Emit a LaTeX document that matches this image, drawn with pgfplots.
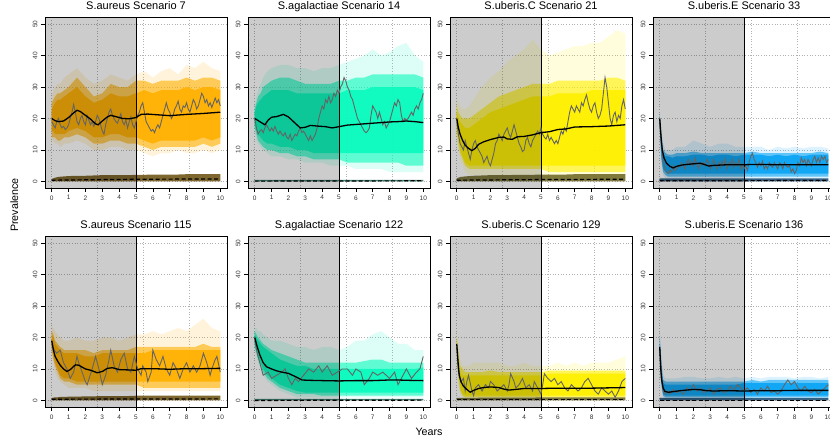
\documentclass[border=0pt]{standalone}
\usepackage{fontspec}
\setmainfont{Liberation Sans}
\usepackage{pgfplots}
\usepackage{pgfplotstable}
\pgfplotsset{compat=1.18}
\usepgfplotslibrary{fillbetween}

\definecolor{cA}{RGB}{255,176,0}
\definecolor{cB}{RGB}{10,250,190}
\definecolor{cC}{RGB}{255,240,0}
\definecolor{cD}{RGB}{10,165,245}
\definecolor{lA}{RGB}{105,78,12}
\definecolor{lB}{RGB}{30,110,90}
\definecolor{lC}{RGB}{105,98,30}
\definecolor{lD}{RGB}{20,70,110}
\definecolor{obs}{RGB}{100,100,100}

\pgfplotsset{
  panel/.style={
    set layers,
    scale only axis, width=182pt, height=170.5pt, anchor=south west,
    xmin=-0.4, xmax=10.4, ymin=-2.08, ymax=52.08,
    xtick={0,1,...,10}, ytick={0,10,20,30,40,50},
    tick align=outside, major tick length=4pt,
    xtick pos=left, ytick pos=left,
    tick style={black, line width=0.5pt},
    axis line style={line width=0.7pt},
    /pgf/number format/assume math mode=true,
    ticklabel style={font=\fontsize{6.5}{7}\selectfont, text=black!80},
    yticklabel style={rotate=90, anchor=south},
    title style={font=\fontsize{11}{13}\selectfont, at={(0.5,1)}, anchor=base, yshift=2pt, inner sep=0pt},
    ymajorgrids,
    extra x ticks={0,2.727,5.455,8.182}, extra x tick labels={},
    extra x tick style={grid=major, major tick length=0pt},
    grid style={line width=0.6pt, dash pattern=on 0.7pt off 2pt, color=black!30},
    no markers,
  }
}

\newcommand{\bands}[3]{%
  \addplot[draw=none, name path=ou] table[x=x,y=ou]{#1};
  \addplot[draw=none, name path=ol] table[x=x,y=ol]{#1};
  \addplot[draw=none, name path=mu] table[x=x,y=mu]{#1};
  \addplot[draw=none, name path=ml] table[x=x,y=ml]{#1};
  \addplot[draw=none, name path=cu] table[x=x,y=cu]{#1};
  \addplot[draw=none, name path=cl] table[x=x,y=cl]{#1};
  \addplot[fill=#2, fill opacity=0.14] fill between[of=ou and ol];
  \addplot[fill=#2, fill opacity=0.6] fill between[of=mu and ml];
  \addplot[fill=#2, fill opacity=0.92] fill between[of=cu and cl];
  \addplot[fill=#3, draw=none, fill opacity=0.85] table[x=x,y=lu]{#1} \closedcycle;
  \addplot[fill=black, fill opacity=0.2, draw=none] coordinates {(-1,-5) (5,-5) (5,60) (-1,60)} -- cycle;
  \addplot[black, line width=0.6pt] coordinates {(5,-5) (5,60)};
}

\pgfplotstableread{
x ou ol mu ml cu cl lu
0 27 13 25 14 23 16 0.8
0.1 29 13 26 14 24 16 1.0
0.2 30 12 27 14 25 15 1.2
0.35 31 12 28 13 26 15 1.4
0.5 31 11 28 13 26 15 1.5
0.75 33 12 29 14 27 15 1.6
1 34 12 30 14 28 16 1.7
1.5 36 13 33 15 30 17 1.8
2 33 12 30 14 27 16 1.8
2.5 31 10 27 12 25 14 1.9
3 32 10 28 12 26 14 2.0
3.5 34 11 31 13 28 15 2.0
4 33 11 30 13 27 15 2.0
4.5 32 10 30 12 27 14 2.0
5 34 10 32 12 28 14 2.1
5.5 35 9 32 11 29 13 2.1
6 33 8 31 10 28 12 2.2
6.5 35 9 32 11 29 13 2.2
7 36 9 32 11 29 13 2.2
7.5 34 10 32 11 29 13 2.2
8 37 9 33 11 30 13 2.3
8.5 36 9 32 11 29 13 2.3
9 38 10 33 12 30 14 2.3
9.5 36 9 33 11 30 13 2.3
10 35 10 32 12 29 14 2.3
}\tA

\pgfplotstableread{
x ou ol mu ml cu cl lu
0 24 16 23 17 22 18 0.5
0.1 27 13 25 15 24 16 0.5
0.2 29 12 27 13 25 15 0.5
0.35 31 11 28 12 26 14 0.5
0.5 33 10 30 11 27 13 0.5
0.75 35 9 31 10 28 12 0.5
1 36 8 32 10 29 12 0.5
1.5 37 8 33 9 29 11 0.5
2 37 7 33 9 29 11 0.5
2.5 36 7 32 8 28 10 0.5
3 36 6 31 8 28 10 0.5
3.5 35 6 31 7 28 9 0.5
4 36 6 31 7 28 9 0.5
4.5 36 5 31 7 28 9 0.5
5 37 5 32 7 28 9 0.5
5.5 38 5 32 6 29 9 0.5
6 39 4 33 6 29 9 0.5
6.5 40 4 33 6 29 9 0.5
7 42 4 34 6 30 9 0.5
7.5 40 4 34 6 30 9 0.5
8 41 3 34 6 30 9 0.5
8.5 43 3 34 6 30 9 0.5
9 44 3 34 5 30 9 0.5
9.5 40 3 34 5 30 9 0.5
10 38 3 33 5 29 9 0.5
}\tB

\pgfplotstableread{
x ou ol mu ml cu cl lu
0 26 14 24 16 22 17 1.0
0.1 25 10 22 12 20 13 1.2
0.2 24 7 21 9 19 10 1.4
0.35 23 5 20 7 18 8 1.5
0.5 23 3 20 5 17 6 1.6
0.75 24 2 20 4 17 5 1.7
1 26 2 21 4 18 5 1.8
1.5 30 2 23 4 20 5 1.9
2 33 2 25 4 22 5 2.0
2.5 35 2 27 4 23 5 2.0
3 38 2 28 4 24 5 2.0
3.5 40 2 29 4 25 5 2.1
4 42 2 30 4 26 5 2.1
4.5 45 2 31 4 27 5 2.1
5 42 2 31 4 27 5 2.2
5.5 40 1 31 3 27 5 2.2
6 41 1 32 3 28 5 2.2
6.5 42 1 32 3 28 5 2.2
7 43 1 32 3 28 5 2.3
7.5 43 1 32 3 28 5 2.3
8 44 1 32 3 29 5 2.3
8.5 44 1 32 3 29 5 2.3
9 46 1 33 3 29 5 2.3
9.5 48 1 33 3 29 5 2.3
10 47 1 32 3 29 5 2.3
}\tC

\pgfplotstableread{
x ou ol mu ml cu cl lu
0 22 16 21 17 20 18 1.0
0.1 16 6 14 7 12 8 1.0
0.2 12 2 10 3 9 4 1.0
0.35 10 1 9 2 8 3 1.0
0.5 10 1 8.5 1.5 8 2.5 1.0
0.75 10 1 8.5 1.5 7.5 2.5 1.0
1 11 1 9 1.5 8 2.5 1.0
1.5 11 1 9 1.5 8 2.5 1.0
2 13 1 9.5 1.5 8.5 2.5 1.0
2.5 12 1 9 1.5 8.5 2.5 1.0
3 11 1 9 1.5 8 2.5 1.0
3.5 12 1 9 1.5 8.5 2.5 1.0
4 12 1 9 1.5 8.5 2.5 1.0
4.5 11 1 9 1.5 8 2.5 1.0
5 11 1 9 1.5 8.5 2.5 1.0
5.5 11 1 9.5 1.5 8.5 2.5 1.0
6 11 1 9 1.5 8.5 2.5 1.0
6.5 10 1 9 1.5 8 2.5 1.0
7 11 1 9 1.5 8.5 2.5 1.0
7.5 10.5 1 9 1.5 8 2.5 1.0
8 11 1 9 1.5 8.5 2.5 1.0
8.5 10.5 1 9 1.5 8 2.5 1.0
9 11 1 9 1.5 8.5 2.5 1.0
9.5 11 1 9.5 1.5 8.5 2.5 1.0
10 10.5 1 9 1.5 8.5 2.5 1.0
}\tD

\pgfplotstableread{
x ou ol mu ml cu cl lu
0 24 15 22 16 21 17 0.8
0.1 23 12 21 13 20 14 0.9
0.2 22 9 19 11 18 12 1.0
0.35 21 7 18 9 17 10 1.0
0.5 20 6 17 7 16 8 1.1
0.75 19 5 16 6 15 7 1.1
1 19 4 16 6 15 7 1.2
1.5 20 4 16 5 15 6 1.2
2 19 4 16 5 14 6 1.3
2.5 19 3 15 5 14 6 1.3
3 20 3 16 5 15 6 1.4
3.5 20 3 16 5 15 6 1.4
4 19 3 16 5 15 6 1.4
4.5 20 3 16 5 15 6 1.4
5 21 3 17 5 15 6 1.5
5.5 21 3 17 4 15 6 1.5
6 22 3 17 4 16 6 1.5
6.5 21 3 17 4 16 6 1.5
7 22 3 17 4 16 6 1.5
7.5 23 3 17 4 16 6 1.5
8 22 3 17 4 16 6 1.5
8.5 24 3 17 4 16 6 1.5
9 26 3 18 4 16 6 1.5
9.5 23 3 17 4 16 6 1.5
10 22 3 17 4 16 6 1.5
}\tE

\pgfplotstableread{
x ou ol mu ml cu cl lu
0 23 16 22 17 21 18 0.5
0.1 23 14 21 15 20 16 0.5
0.2 22 12 20 13 19 14 0.5
0.35 22 10 19 11 18 12 0.5
0.5 21 8 18 9 17 10 0.5
0.75 20 6 17 7 16 8 0.5
1 19 5 16 6 15 7 0.5
1.5 19 3 15 4 13 5 0.5
2 18 2 14 3 12 4 0.5
2.5 17 1 13 2 11 3 0.5
3 17 1 12 2 11 2.5 0.5
3.5 16 1 12 2 10 2.5 0.5
4 17 1 12 1.5 10 2.5 0.5
4.5 17 1 12 1.5 10 2.5 0.5
5 16 1 12 1.5 10 2.5 0.5
5.5 17 1 12 1.5 10 2.5 0.5
6 19 1 12 1.5 10 2.5 0.5
6.5 19 1 12.5 1.5 10 2.5 0.5
7 21 1 13 1.5 10 2.5 0.5
7.5 22 1 13 1.5 10 2.5 0.5
8 20 1 12 1.5 10 2.5 0.5
8.5 18 1 12 1.5 10 2.5 0.5
9 18 1 12 1.5 10 2.5 0.5
9.5 16 1 12 1.5 10 2.5 0.5
10 16 1 12 1.5 10.5 2.5 0.5
}\tF

\pgfplotstableread{
x ou ol mu ml cu cl lu
0 22 14 20 15 19 16 0.8
0.1 17 6 15 7 13 8 0.8
0.2 13 2 11 3 9 4 0.8
0.35 11 1 10 1.5 8 2 0.8
0.5 11 0.5 9 1 8 1.5 0.8
0.75 11 0.5 9 1 8 1.5 0.8
1 12 0.5 9 1 8 1.5 0.8
1.5 12 0.5 9 1 8 1.5 0.9
2 12 0.5 9.5 1 8 1.5 0.9
2.5 12 0.5 9 1 8 1.5 0.9
3 11 0.5 9 1 8 1.5 0.9
3.5 11 0.5 9 1 8 1.5 0.9
4 12 0.5 9 1 8 1.5 0.9
4.5 11 0.5 9 1 8 1.5 0.9
5 11 0.5 9 1 8 1.5 1.0
5.5 11 0.5 9.5 1 8.5 1.5 1.0
6 12 0.5 9.5 1 8.5 1.5 1.0
6.5 11 0.5 9.5 1 8.5 1.5 1.0
7 12 0.5 9.5 1 8.5 1.5 1.0
7.5 11 0.5 9.5 1 8.5 1.5 1.0
8 12 0.5 9.5 1 8.5 1.5 1.0
8.5 12 0.5 9.5 1 8.5 1.5 1.0
9 12 0.5 9.5 1 8.5 1.5 1.0
9.5 13 0.5 9.5 1 8.5 1.5 1.0
10 14 0.5 9.5 1 8.5 1.5 1.0
}\tG

\pgfplotstableread{
x ou ol mu ml cu cl lu
0 22 14 20 15 18 16 0.8
0.1 14 4 12 5 10 6 0.8
0.2 8 1 6.5 1.5 5.5 2 0.8
0.35 7 0.5 6 1 5 1.5 0.8
0.5 7 0.5 6 1 5 1.5 0.8
0.75 7 0.5 6 1 5 1.5 0.8
1 7 0.5 6 1 5 1.5 0.8
1.5 7.5 0.5 6 1 5 1.5 0.8
2 7.5 0.5 6 1 5 1.5 0.8
2.5 7 0.5 6 1 5 1.5 0.8
3 7 0.5 6 1 5 1.5 0.8
3.5 7.5 0.5 6 1 5 1.5 0.8
4 7 0.5 6 1 5 1.5 0.8
4.5 7.5 0.5 6 1 5 1.5 0.8
5 7 0.5 6 1 5.5 1.5 0.8
5.5 7.5 0.5 6.5 1 5.5 1.5 0.8
6 7 0.5 6 1 5.5 1.5 0.8
6.5 7.5 0.5 6.5 1 5.5 1.5 0.8
7 7.5 0.5 6.5 1 5.5 1.5 0.8
7.5 7.5 0.5 6.5 1 5.5 1.5 0.8
8 7 0.5 6.5 1 5.5 1.5 0.8
8.5 7.5 0.5 6.5 1 5.5 1.5 0.8
9 7.5 0.5 6.5 1 5.5 1.5 0.8
9.5 7 0.5 6.5 1 5.5 1.5 0.8
10 7.5 0.5 6.5 1 5.5 1.5 0.8
}\tH

\begin{document}
\begin{tikzpicture}

% ---------- Row 1 ----------
\begin{axis}[panel, at={(45pt,250pt)}, title={S.aureus Scenario 7}]
\bands{\tA}{cA}{lA}
\addplot[black, line width=1.2pt, dash pattern=on 4pt off 2.5pt] coordinates {(0,0.4) (5,0.7) (10,0.8)};
\addplot[obs, line width=0.9pt] coordinates {(0,19) (0.1,18) (0.2,17) (0.3,19) (0.4,20) (0.5,18) (0.6,17) (0.7,17.5) (0.8,16.5) (0.9,17) (1.0,18) (1.1,20) (1.2,22) (1.3,24.5) (1.4,22) (1.5,19) (1.6,18) (1.7,20) (1.8,21) (1.9,19) (2.0,18) (2.1,21) (2.2,19.5) (2.3,18) (2.4,19) (2.5,17.5) (2.6,19) (2.7,21) (2.8,20) (2.9,18) (3.0,16) (3.1,15) (3.2,18) (3.3,20) (3.4,22) (3.5,23) (3.6,21) (3.7,20) (3.8,19) (3.9,18.5) (4.0,20) (4.1,21.5) (4.2,19) (4.3,18) (4.4,19.5) (4.5,17) (4.6,19) (4.7,20.5) (4.8,18) (4.9,17) (5.0,19) (5.1,21) (5.2,22) (5.3,24) (5.4,25) (5.5,22) (5.6,19) (5.7,18) (5.8,17) (5.9,16) (6.0,16.5) (6.1,15.5) (6.2,17) (6.3,18) (6.4,17) (6.5,19) (6.6,21) (6.7,23) (6.8,25) (6.9,23) (7.0,22) (7.1,20) (7.2,21) (7.3,23) (7.4,24) (7.5,25.5) (7.6,23) (7.7,22) (7.8,24) (7.9,23.5) (8.0,25) (8.1,23) (8.2,22) (8.3,24) (8.4,26) (8.5,25) (8.6,23) (8.7,24) (8.8,26) (8.9,28) (9.0,27) (9.1,25) (9.2,26) (9.3,24) (9.4,25) (9.5,23.5) (9.6,25) (9.7,26.5) (9.8,25) (9.9,26) (10,24)};
\addplot[black, line width=1.3pt] coordinates {(0,20) (0.2,19.3) (0.4,19) (0.7,19.2) (1,20.3) (1.3,21.8) (1.5,22.6) (1.7,22.2) (2,21) (2.3,19.8) (2.6,18.3) (2.75,18) (3,19.2) (3.3,20.5) (3.5,21) (3.8,20.6) (4.2,20) (4.6,19.9) (5,20.3) (5.3,21.3) (5.7,21.4) (6.2,21.2) (7,20.9) (7.5,21.1) (8,21.3) (9,21.6) (9.5,21.8) (10,22)};
\end{axis}

\begin{axis}[panel, at={(248pt,250pt)}, title={S.agalactiae Scenario 14}]
\bands{\tB}{cB}{lB}
\addplot[black, line width=1.2pt, dash pattern=on 4pt off 2.5pt] coordinates {(0,0.1) (10,0.2)};
\addplot[obs, line width=0.9pt] coordinates {(0,20) (0.1,17) (0.2,15) (0.3,16) (0.4,16.5) (0.5,15.5) (0.6,17) (0.7,18) (0.8,17) (0.9,16) (1.0,17) (1.1,16) (1.2,17.5) (1.3,16) (1.4,15) (1.5,16) (1.6,15) (1.7,14.5) (1.8,15.5) (1.9,14) (2.0,13.5) (2.1,15) (2.2,13) (2.3,14) (2.4,15) (2.5,14.5) (2.6,16) (2.7,17) (2.8,15.5) (2.9,16) (3.0,15) (3.1,14) (3.2,13) (3.3,14.5) (3.4,13) (3.5,14) (3.6,15) (3.7,17) (3.8,20) (3.9,22) (4.0,24) (4.1,23) (4.2,26) (4.3,25) (4.4,27) (4.5,25) (4.6,26) (4.7,28) (4.8,27) (4.9,29) (5.0,28) (5.1,30) (5.2,31) (5.3,33) (5.4,32) (5.5,30) (5.6,29) (5.7,27) (5.8,26) (5.9,24) (6.0,22) (6.1,20) (6.2,19) (6.3,18) (6.4,17) (6.5,16) (6.6,15.5) (6.7,16) (6.8,17) (6.9,21) (7.0,24) (7.1,23) (7.2,22) (7.3,20) (7.4,22) (7.5,20) (7.6,18) (7.7,19) (7.8,17) (7.9,18) (8.0,19) (8.1,21) (8.2,23) (8.3,25) (8.4,24) (8.5,26) (8.6,25) (8.7,21) (8.8,19) (8.9,20) (9.0,19.5) (9.1,20) (9.2,21) (9.3,22) (9.4,21) (9.5,23) (9.6,24) (9.7,23) (9.8,25) (9.9,26) (10,28)};
\addplot[black, line width=1.3pt] coordinates {(0,20) (0.3,19) (0.6,18) (0.8,19.5) (1,20.4) (1.3,20.6) (1.7,21.3) (2,20.5) (2.4,18.5) (2.7,17) (3,17.2) (3.3,17.8) (3.7,17.6) (4.2,17.4) (4.6,17) (5,17.4) (5.5,17.9) (6,18.1) (7,18.5) (8,18.9) (8.5,19) (9,19.2) (9.5,19) (10,18.7)};
\end{axis}

\begin{axis}[panel, at={(450pt,250pt)}, title={S.uberis.C Scenario 21}]
\bands{\tC}{cC}{lC}
\addplot[black, line width=1.2pt, dash pattern=on 4pt off 2.5pt] coordinates {(0,0.4) (5,0.6) (10,0.7)};
\addplot[obs, line width=0.9pt] coordinates {(0,19) (0.1,15) (0.2,12) (0.3,11) (0.4,10) (0.5,13) (0.6,11) (0.7,9) (0.8,7) (0.9,10) (1.0,12) (1.1,13) (1.2,11) (1.3,10) (1.4,9) (1.5,8) (1.6,6) (1.7,7) (1.8,8) (1.9,6) (2.0,5) (2.1,7) (2.2,9) (2.3,12) (2.4,13) (2.5,15) (2.6,14) (2.7,13) (2.8,15) (2.9,16) (3.0,17) (3.1,15) (3.2,14) (3.3,16) (3.4,18) (3.5,16) (3.6,14) (3.7,12) (3.8,11) (3.9,9.5) (4.0,10) (4.1,13) (4.2,14) (4.3,12) (4.4,11) (4.5,13) (4.6,14) (4.7,15) (4.8,16) (4.9,15) (5.0,17) (5.1,15) (5.2,14) (5.3,13.5) (5.4,15) (5.5,13) (5.6,14) (5.7,13) (5.8,12) (5.9,13) (6.0,12) (6.1,14) (6.2,16) (6.3,15) (6.4,17) (6.5,16) (6.6,19) (6.7,22) (6.8,24) (6.9,23) (7.0,22) (7.1,24) (7.2,23) (7.3,22) (7.4,25) (7.5,24) (7.6,26) (7.7,27.5) (7.8,25) (7.9,23) (8.0,22) (8.1,24) (8.2,25) (8.3,22) (8.4,20) (8.5,21) (8.6,23) (8.7,28) (8.8,33) (8.9,30) (9.0,25) (9.1,20) (9.2,18) (9.3,21) (9.4,22) (9.5,19) (9.6,21) (9.7,20) (9.8,24) (9.9,26) (10,23)};
\addplot[black, line width=1.3pt] coordinates {(0,20) (0.1,17) (0.2,15) (0.35,13) (0.5,11.5) (0.7,10.5) (0.9,9.8) (1.1,10.5) (1.3,11.8) (1.6,12.6) (2,13.3) (2.5,14) (2.8,14.1) (3,13.5) (3.3,13.4) (3.6,14.2) (4,14.3) (4.5,14.8) (5,15.5) (5.5,15.8) (6,16.5) (6.5,16.7) (7,17.3) (8,17.4) (9,17.6) (10,18)};
\end{axis}

\begin{axis}[panel, at={(653pt,250pt)}, title={S.uberis.E Scenario 33}]
\bands{\tD}{cD}{lD}
\addplot[black, line width=1.2pt, dash pattern=on 4pt off 2.5pt] coordinates {(0,0.2) (10,0.3)};
\addplot[obs, line width=0.9pt] coordinates {(0,19) (0.1,12) (0.2,7) (0.3,4) (0.4,3) (0.5,2.5) (0.6,3.5) (0.7,3) (0.8,5) (0.9,3.5) (1.0,4) (1.1,5) (1.2,4.5) (1.3,6) (1.4,5) (1.5,4) (1.6,6) (1.7,7) (1.8,5) (1.9,6.5) (2.0,5) (2.1,7.5) (2.2,5.5) (2.3,4) (2.4,6) (2.5,5) (2.6,6) (2.7,5) (2.8,7) (2.9,6) (3.0,4) (3.1,5.5) (3.2,7) (3.3,5) (3.4,4) (3.5,6) (3.6,4.5) (3.7,6.5) (3.8,5) (3.9,7) (4.0,4) (4.1,6) (4.2,5) (4.3,7) (4.4,4.5) (4.5,6) (4.6,5) (4.7,7) (4.8,4) (4.9,5.5) (5.0,4) (5.1,5) (5.2,3.5) (5.3,6) (5.4,8) (5.5,9) (5.6,7) (5.7,6) (5.8,4.5) (5.9,6) (6.0,5) (6.1,6.5) (6.2,4) (6.3,5) (6.4,4) (6.5,6) (6.6,5) (6.7,4.5) (6.8,6) (6.9,5) (7.0,4) (7.1,6) (7.2,5.5) (7.3,4) (7.4,6) (7.5,5) (7.6,4.5) (7.7,5) (7.8,3) (7.9,4) (8.0,2.5) (8.1,3.5) (8.2,6) (8.3,5) (8.4,7.5) (8.5,6) (8.6,7) (8.7,5) (8.8,7) (8.9,6) (9.0,5) (9.1,7) (9.2,8) (9.3,6) (9.4,7.5) (9.5,6) (9.6,8) (9.7,7) (9.8,8) (9.9,6) (10,7)};
\addplot[black, line width=1.3pt] coordinates {(0,20) (0.08,14) (0.15,10) (0.25,7.5) (0.4,5.8) (0.6,4.8) (0.8,4.3) (1,4.8) (1.3,5.2) (1.6,5.4) (2,5.6) (2.4,5.8) (2.7,5.3) (2.9,4.9) (3.2,5.1) (3.6,5.2) (4,5.3) (5,5.3) (5.5,5.4) (6,5.4) (7,5.3) (8,5.3) (9,5.3) (10,5.3)};
\end{axis}

% ---------- Row 2 ----------
\begin{axis}[panel, at={(45pt,31pt)}, title={S.aureus Scenario 115}]
\bands{\tE}{cA}{lA}
\addplot[black, line width=1.2pt, dash pattern=on 4pt off 2.5pt] coordinates {(0,0.4) (10,0.5)};
\addplot[obs, line width=0.9pt] coordinates {(0,18) (0.15,16) (0.3,15) (0.5,16) (0.7,12) (0.9,10) (1.1,7) (1.3,9) (1.5,14) (1.6,12) (1.8,9) (2.0,6) (2.1,5) (2.4,10) (2.6,14) (2.8,10) (3.0,5) (3.2,8) (3.4,13) (3.5,16) (3.7,11) (3.9,9) (4.1,13) (4.3,15) (4.5,10) (4.7,9) (4.9,14) (5.1,10) (5.3,8) (5.4,11) (5.6,9) (5.7,6) (5.9,9) (6.0,16) (6.2,13) (6.4,11) (6.6,14) (6.8,10) (7.0,8) (7.2,12) (7.4,10) (7.6,7) (7.8,10) (8.0,12) (8.2,9) (8.4,11) (8.6,9) (8.8,11) (9.0,15) (9.2,12) (9.4,8) (9.5,10) (9.7,13) (9.8,14) (10,9)};
\addplot[black, line width=1.3pt] coordinates {(0,19) (0.1,16) (0.2,14) (0.35,12.5) (0.5,11.2) (0.7,10) (0.9,9.2) (1.1,9.8) (1.4,11.3) (1.6,11.2) (2,10) (2.3,9.6) (2.7,8.8) (3,9.2) (3.3,10.2) (3.6,10.4) (4,9.8) (4.5,9.7) (5,9.6) (5.3,10.1) (6,10.1) (7,9.9) (8,10.1) (9,10.1) (10,10.2)};
\end{axis}

\begin{axis}[panel, at={(248pt,31pt)}, title={S.agalactiae Scenario 122}]
\bands{\tF}{cB}{lB}
\addplot[black, line width=1.2pt, dash pattern=on 4pt off 2.5pt] coordinates {(0,0) (10,0.1)};
\addplot[obs, line width=0.9pt] coordinates {(0,19) (0.15,15) (0.3,12) (0.5,8) (0.8,9) (1,7) (1.3,8) (1.6,9) (1.8,10) (2.0,7) (2.2,5) (2.4,7) (2.6,6) (2.9,8) (3.2,10) (3.5,9) (3.8,11) (4.0,9) (4.3,11) (4.6,8) (4.9,9) (5.2,10) (5.5,10) (5.8,8) (6.0,10) (6.3,9) (6.5,5) (6.8,7) (7.0,9) (7.3,8) (7.6,9) (8.0,7) (8.3,9) (8.5,5) (8.8,8) (9.0,10) (9.3,7) (9.6,9) (9.8,10) (10,14)};
\addplot[black, line width=1.3pt] coordinates {(0,20) (0.15,17) (0.3,14.5) (0.5,12) (0.7,10.7) (1,10) (1.3,9.4) (1.6,9) (2,8.6) (2.4,7.6) (2.8,6.5) (3.2,6.4) (4,6.3) (5,6.2) (6,6.3) (7,6.3) (8,6.5) (8.5,6.5) (9,6.4) (10,6.3)};
\end{axis}

\begin{axis}[panel, at={(450pt,31pt)}, title={S.uberis.C Scenario 129}]
\bands{\tG}{cC}{lC}
\addplot[black, line width=1.2pt, dash pattern=on 4pt off 2.5pt] coordinates {(0,0.2) (10,0.2)};
\addplot[obs, line width=0.9pt] coordinates {(0,17) (0.1,9) (0.25,6) (0.4,7) (0.5,3) (0.6,6) (0.7,8) (0.9,3) (1,1.5) (1.1,4) (1.3,5) (1.5,3) (1.7,5) (1.9,4) (2.0,6) (2.2,5) (2.4,3) (2.6,4) (2.8,5) (3.0,3) (3.1,5) (3.2,8.5) (3.4,6) (3.5,4) (3.7,5) (3.9,7) (4.1,4) (4.3,5) (4.5,3) (4.6,6) (4.8,4) (5,2) (5.1,5) (5.2,8.5) (5.4,7) (5.6,6) (5.8,7) (6.0,5) (6.2,6) (6.4,4) (6.6,3) (6.8,5) (7,4) (7.2,3) (7.4,4) (7.6,6) (7.8,7) (8,5) (8.2,3) (8.4,2) (8.6,4) (8.8,3) (9,2) (9.2,3) (9.4,1) (9.6,3) (9.8,6) (10,7)};
\addplot[black, line width=1.3pt] coordinates {(0,18) (0.08,12) (0.15,8) (0.25,6) (0.4,4.5) (0.6,3.5) (0.8,2.6) (1,3.2) (1.3,3.8) (1.6,4.1) (2,4.3) (2.5,4.1) (2.8,3.6) (3.1,3.3) (3.5,3.5) (4,3.8) (5,3.8) (6,3.9) (7,3.9) (8,3.9) (9,4) (10,4.1)};
\end{axis}

\begin{axis}[panel, at={(653pt,31pt)}, title={S.uberis.E Scenario 136}]
\bands{\tH}{cD}{lD}
\addplot[black, line width=1.2pt, dash pattern=on 4pt off 2.5pt] coordinates {(0,0.1) (10,0.1)};
\addplot[obs, line width=0.9pt] coordinates {(0,16) (0.1,8) (0.2,3) (0.35,2) (0.5,3) (0.6,2) (0.8,3.5) (1,2.5) (1.2,3) (1.4,2) (1.6,4) (1.8,3) (2,5) (2.2,3) (2.4,4) (2.6,2.5) (2.8,3) (3,4) (3.2,2) (3.4,3.5) (3.6,4) (3.8,2.5) (4,3) (4.2,4.5) (4.4,3) (4.6,5) (4.8,4) (5,3) (5.2,4) (5.4,2.5) (5.6,3.5) (5.8,2) (6,4) (6.2,3) (6.4,4.5) (6.6,2.5) (6.8,3) (7,2) (7.2,3) (7.4,5) (7.6,6.5) (7.8,5) (8,6) (8.2,4) (8.4,3) (8.6,4.5) (8.8,3) (9,2.5) (9.2,3.5) (9.4,2) (9.6,3) (9.8,4) (10,5)};
\addplot[black, line width=1.3pt] coordinates {(0,17) (0.05,11) (0.1,7) (0.2,4) (0.3,2.9) (0.5,2.6) (0.8,2.8) (1.2,3.1) (1.6,3.3) (2,3.5) (2.4,3.4) (2.8,3.1) (3.2,3) (4,3.1) (5,3) (6,3.1) (7,3.1) (8,3.2) (9,3.2) (10,3.2)};
\end{axis}

\node[rotate=90, anchor=base, font=\fontsize{10.7}{12}\selectfont] at (18pt,233pt) {Prevalence};
\node[anchor=base, font=\fontsize{10.7}{12}\selectfont] at (429pt,2.5pt) {Years};

\pgfresetboundingbox
\useasboundingbox (0,0) rectangle (830pt,438pt);
\end{tikzpicture}
\end{document}
